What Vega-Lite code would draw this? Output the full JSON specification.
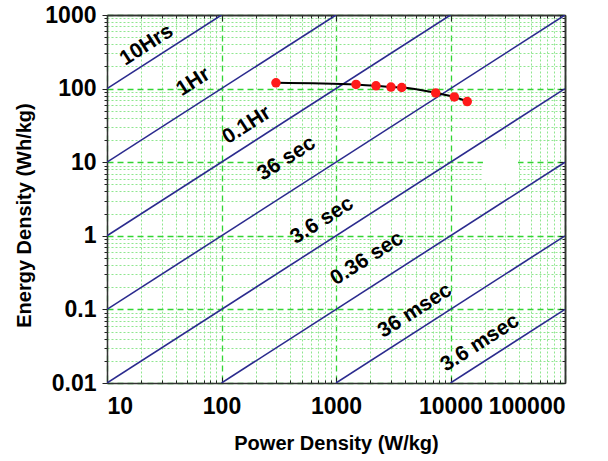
{
  "$schema": "https://vega.github.io/schema/vega-lite/v6.json",
  "width": 458,
  "height": 368,
  "autosize": {"type": "none"},
  "padding": {"left": 107, "top": 15, "right": 43, "bottom": 78},
  "background": "white",
  "config": {
    "view": {"stroke": null},
    "axis": {"labelFont": "Liberation Sans", "titleFont": "Liberation Sans", "labelColor": "black", "titleColor": "black", "tickColor": "#222", "domainColor": "#333", "domainWidth": 1.5}
  },
  "datasets": {
    "lines": [
      {"t": "10Hrs", "P": 10, "E": 100}, {"t": "10Hrs", "P": 100, "E": 1000},
      {"t": "1Hr", "P": 10, "E": 10}, {"t": "1Hr", "P": 1000, "E": 1000},
      {"t": "0.1Hr", "P": 10, "E": 1}, {"t": "0.1Hr", "P": 10000, "E": 1000},
      {"t": "36 sec", "P": 10, "E": 0.1}, {"t": "36 sec", "P": 100000, "E": 1000},
      {"t": "3.6 sec", "P": 10, "E": 0.01}, {"t": "3.6 sec", "P": 100000, "E": 100},
      {"t": "0.36 sec", "P": 100, "E": 0.01}, {"t": "0.36 sec", "P": 100000, "E": 10},
      {"t": "36 msec", "P": 1000, "E": 0.01}, {"t": "36 msec", "P": 100000, "E": 1},
      {"t": "3.6 msec", "P": 10000, "E": 0.01}, {"t": "3.6 msec", "P": 100000, "E": 0.1}
    ],
    "points": [
      {"P": 299, "E": 120},
      {"P": 1496, "E": 114},
      {"P": 2235, "E": 109},
      {"P": 3020, "E": 105},
      {"P": 3750, "E": 103.5},
      {"P": 7430, "E": 87.4},
      {"P": 10800, "E": 77},
      {"P": 14000, "E": 66.7}
    ],
    "labels": [
      {"text": "10Hrs", "P": 22.2, "E": 390},
      {"text": "1Hr", "P": 56.7, "E": 123},
      {"text": "0.1Hr", "P": 166, "E": 31.7},
      {"text": "36 sec", "P": 370, "E": 11.2},
      {"text": "3.6 sec", "P": 755, "E": 1.61},
      {"text": "0.36 sec", "P": 1866, "E": 0.489},
      {"text": "36 msec", "P": 4898, "E": 0.0957},
      {"text": "3.6 msec", "P": 18100, "E": 0.035}
    ],
    "box": [
      {"P1": 19200, "P2": 38900, "E1": 5.3, "E2": 15.4}
    ]
  },
  "layer": [
    {
      "data": {"name": "lines"},
      "mark": {"type": "point", "opacity": 0},
      "encoding": {
        "x": {"field": "P", "type": "quantitative", "scale": {"type": "log", "domain": [10, 100000], "nice": false},
          "axis": {"orient": "bottom", "values": [20,30,40,50,60,70,80,90,200,300,400,500,600,700,800,900,2000,3000,4000,5000,6000,7000,8000,9000,20000,30000,40000,50000,60000,70000,80000,90000],
            "labels": false, "title": null, "domain": false, "grid": true, "gridColor": "#8fe68f", "gridDash": [2, 2], "gridWidth": 1, "ticks": true, "tickSize": -3}},
        "y": {"field": "E", "type": "quantitative", "scale": {"type": "log", "domain": [0.01, 1000], "nice": false},
          "axis": {"orient": "left", "values": [0.02,0.03,0.04,0.05,0.06,0.07,0.08,0.09,0.2,0.3,0.4,0.5,0.6,0.7,0.8,0.9,2,3,4,5,6,7,8,9,20,30,40,50,60,70,80,90,200,300,400,500,600,700,800,900],
            "labels": false, "title": null, "domain": false, "grid": true, "gridColor": "#8fe68f", "gridDash": [2, 2], "gridWidth": 1, "ticks": true, "tickSize": 3}}
      }
    },
    {
      "data": {"name": "lines"},
      "mark": {"type": "point", "opacity": 0},
      "encoding": {
        "x": {"field": "P", "type": "quantitative",
          "axis": {"orient": "top", "values": [20,30,40,50,60,70,80,90,200,300,400,500,600,700,800,900,2000,3000,4000,5000,6000,7000,8000,9000,20000,30000,40000,50000,60000,70000,80000,90000],
            "labels": false, "title": null, "domain": true, "grid": false, "ticks": true, "tickSize": -3}},
        "y": {"field": "E", "type": "quantitative",
          "axis": {"orient": "right", "values": [0.02,0.03,0.04,0.05,0.06,0.07,0.08,0.09,0.2,0.3,0.4,0.5,0.6,0.7,0.8,0.9,2,3,4,5,6,7,8,9,20,30,40,50,60,70,80,90,200,300,400,500,600,700,800,900],
            "labels": false, "title": null, "domain": true, "grid": false, "ticks": true, "tickSize": -3}}
      }
    },
    {
      "data": {"name": "lines"},
      "mark": {"type": "point", "opacity": 0},
      "encoding": {
        "x": {"field": "P", "type": "quantitative",
          "axis": {"orient": "top", "values": [10, 100, 1000, 10000, 100000], "labels": false, "title": null, "domain": true, "grid": false, "ticks": true, "tickSize": -6}},
        "y": {"field": "E", "type": "quantitative",
          "axis": {"orient": "right", "values": [0.01, 0.1, 1, 10, 100, 1000], "labels": false, "title": null, "domain": true, "grid": false, "ticks": true, "tickSize": -6}}
      }
    },
    {
      "data": {"name": "box"},
      "mark": {"type": "rect", "color": "white"},
      "encoding": {
        "x": {"field": "P1", "type": "quantitative", "axis": null},
        "x2": {"field": "P2"},
        "y": {"field": "E1", "type": "quantitative", "axis": null},
        "y2": {"field": "E2"}
      }
    },
    {
      "data": {"name": "lines"},
      "mark": {"type": "line", "color": "#2b2b8e", "strokeWidth": 1.6, "clip": true},
      "encoding": {
        "x": {"field": "P", "type": "quantitative",
          "axis": {"orient": "bottom", "values": [10, 100, 1000, 10000, 100000], "format": "~g", "title": "Power Density (W/kg)",
            "grid": true, "gridColor": "#33d633", "gridDash": [6, 4], "gridWidth": 1.3, "tickSize": -6, "labelPadding": 18,
            "labelFontSize": 23, "labelFontWeight": "bold", "titleFontSize": 20, "titleFontWeight": "bold", "titlePadding": 15}},
        "y": {"field": "E", "type": "quantitative",
          "axis": {"orient": "left", "values": [0.01, 0.1, 1, 10, 100, 1000], "format": "~g", "title": "Energy Density (Wh/kg)",
            "grid": true, "gridColor": "#33d633", "gridDash": [6, 4], "gridWidth": 1.3, "tickSize": 5, "labelPadding": 6,
            "labelFontSize": 23, "labelFontWeight": "bold", "titleFontSize": 20, "titleFontWeight": "bold", "titlePadding": 10, "titleY": 200}},
        "detail": {"field": "t"},
        "order": {"field": "P"}
      }
    },
    {
      "data": {"name": "points"},
      "mark": {"type": "line", "color": "black", "strokeWidth": 2, "interpolate": "monotone"},
      "encoding": {
        "x": {"field": "P", "type": "quantitative", "axis": null},
        "y": {"field": "E", "type": "quantitative", "axis": null}
      }
    },
    {
      "data": {"name": "points"},
      "mark": {"type": "circle", "color": "#ff1a1a", "opacity": 1, "size": 90},
      "encoding": {
        "x": {"field": "P", "type": "quantitative", "axis": null},
        "y": {"field": "E", "type": "quantitative", "axis": null}
      }
    },
    {
      "data": {"name": "labels"},
      "mark": {"type": "text", "angle": -32.7, "font": "Liberation Sans", "fontWeight": "bold", "fontSize": 21, "color": "black", "align": "center", "baseline": "middle"},
      "encoding": {
        "x": {"field": "P", "type": "quantitative", "axis": null},
        "y": {"field": "E", "type": "quantitative", "axis": null},
        "text": {"field": "text"}
      }
    }
  ],
  "resolve": {"axis": {"x": "independent", "y": "independent"}}
}
